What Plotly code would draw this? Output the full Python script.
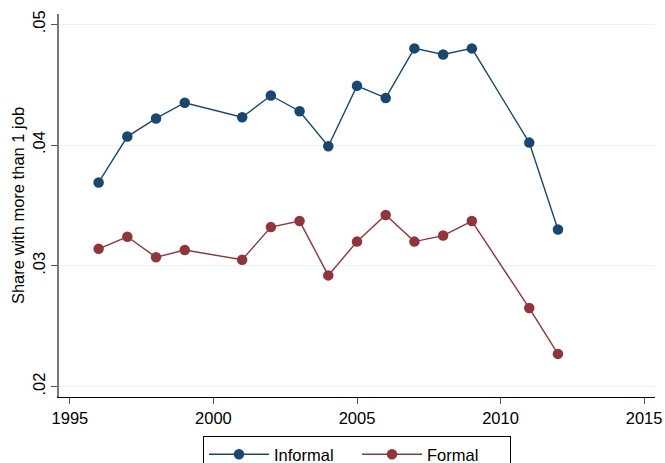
import plotly.graph_objects as go

# Survey years and share of workers holding more than one job
years = [1996, 1997, 1998, 1999, 2001, 2002, 2003, 2004, 2005, 2006, 2007, 2008, 2009, 2011, 2012]
informal = [0.0369, 0.0407, 0.0422, 0.0435, 0.0423, 0.0441, 0.0428, 0.0399,
            0.0449, 0.0439, 0.0480, 0.0475, 0.0480, 0.0402, 0.0330]
formal = [0.0314, 0.0324, 0.0307, 0.0313, 0.0305, 0.0332, 0.0337, 0.0292,
          0.0320, 0.0342, 0.0320, 0.0325, 0.0337, 0.0265, 0.0227]

x_ticks = [1995, 2000, 2005, 2010, 2015]
y_ticks = [0.02, 0.03, 0.04, 0.05]
y_tick_text = [".02", ".03", ".04", ".05"]

NAVY = "#1a476f"
MAROON = "#90353b"
FONT = "Liberation Sans, Arial, sans-serif"

fig = go.Figure()
for name, vals, col in [("Informal", informal, NAVY), ("Formal", formal, MAROON)]:
    fig.add_trace(go.Scatter(
        x=years, y=vals, name=name, mode="lines+markers",
        line=dict(color=col, width=1.4),
        marker=dict(color=col, size=10.5),
    ))

fig.update_layout(
    width=665, height=463,
    margin=dict(l=59, r=10, t=14, b=66, autoexpand=False),
    paper_bgcolor="white", plot_bgcolor="white",
    font=dict(family=FONT, size=16.5, color="black"),
    showlegend=True,
    legend=dict(
        orientation="h", x=0.5, xanchor="center", y=-0.102, yanchor="top",
        bordercolor="black", borderwidth=1, bgcolor="white",
        font=dict(family=FONT, size=16.5, color="black"),
        itemwidth=60, entrywidth=78, tracegroupgap=0,
    ),
)
fig.update_xaxes(
    range=[1994.62, 2015.38], tickvals=x_ticks, showgrid=False,
    showline=True, linecolor="black", linewidth=1.2,
    ticks="outside", ticklen=6, tickcolor="#555555", tickwidth=1,
    tickfont=dict(size=16.5), zeroline=False,
)
fig.update_yaxes(
    range=[0.01913, 0.05085], tickvals=y_ticks, ticktext=y_tick_text,
    tickangle=-90, showgrid=True, gridcolor="#eaf2f3", gridwidth=1.2,
    showline=True, linecolor="#777777", linewidth=1.5,
    ticks="outside", ticklen=6, tickcolor="#555555", tickwidth=1,
    tickfont=dict(size=16.5), zeroline=False,
    title=dict(text="Share with more than 1 job", font=dict(size=16.5), standoff=1),
)

fig.write_html("out.html")
